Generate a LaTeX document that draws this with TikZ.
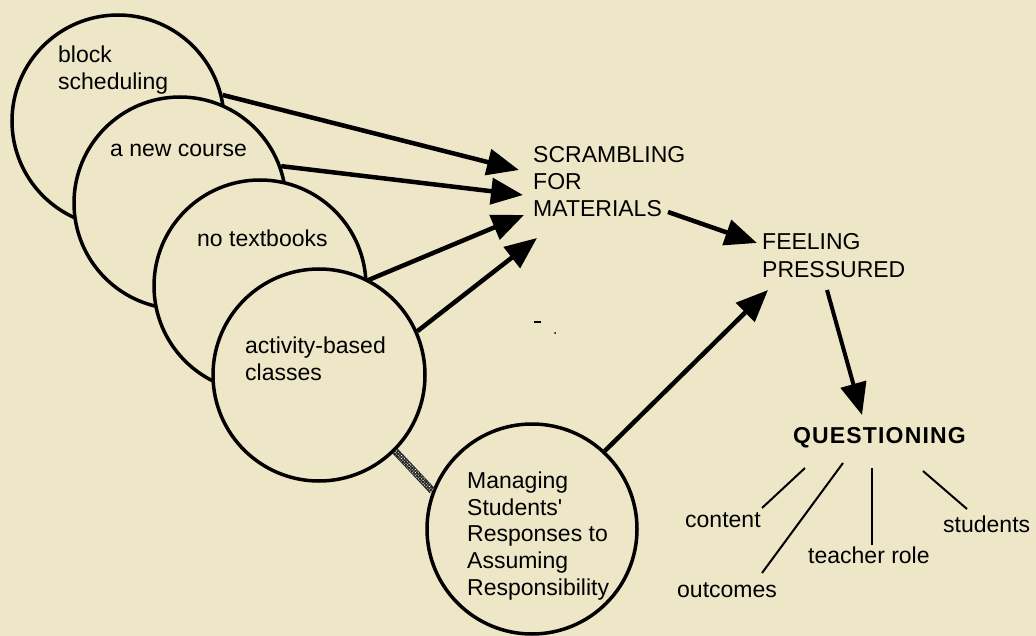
\documentclass[tikz,border=0pt]{standalone}
\usepackage{fontspec}
\setmainfont{Liberation Sans}
\usetikzlibrary{arrows.meta,patterns.meta,calc}
\definecolor{paper}{RGB}{237,231,200}
\begin{document}
\begin{tikzpicture}[x=1pt,y=-1pt,
  bubble/.style={circle,draw,fill=paper,line width=3.5pt,inner sep=0pt,minimum size=212pt},
  txt/.style={inner sep=0pt,font=\fontsize{23}{27}\selectfont,align=left},
  flow/.style={line width=4.5pt,-{Triangle[length=32pt,width=26pt]}},
  facet/.style={line width=2pt}]

% page
\fill[paper] (0,0) rectangle (1036,636);
\useasboundingbox (0,0) rectangle (1036,636);

% overlapping context circles (later ones lie on top)
\node[bubble] (c1) at (118,121) {};
\node[bubble] (c2) at (180,203) {};
\node[bubble] (c3) at (260,286) {};
\node[bubble] (c4) at (319,375) {};
\node[bubble,minimum size=210pt] (c5) at (532,529) {};

% circle labels
\node[txt,anchor=north west] (tblock) at (58,45.2) {block\\scheduling};
\node[txt,anchor=base west] (tcourse) at (110,157) {a new course};
\node[txt,anchor=base west] (tnobook) at (197,247) {no textbooks};
\node[txt,anchor=north west] (tact) at (245,336.2) {activity-based\\classes};
\node[txt,anchor=north west,font=\fontsize{23}{26.75}\selectfont] (tman) at (467,471.5)
  {Managing\\Students\textquotesingle\\Responses to\\Assuming\\Responsibility};

% free-standing concepts
\node[txt,anchor=north west] (scr) at (533,146.5) {SCRAMBLING\\FOR\\MATERIALS};
\node[txt,anchor=north west,font=\fontsize{23}{28}\selectfont] (feel) at (762,233.5) {FEELING\\PRESSURED};
\node[txt,anchor=base west,font=\fontsize{23}{27}\selectfont\bfseries\addfontfeature{LetterSpace=5}] (quest) at (793,443) {QUESTIONING};

% facets of questioning
\node[txt,anchor=base west] (content) at (685,527) {content};
\node[txt,anchor=base west] (outcomes) at (677,597) {outcomes};
\node[txt,anchor=base west] (role) at (808,563) {teacher role};
\node[txt,anchor=base west] (students) at (943,532) {students};

% arrow ends
\coordinate (s1) at (519,170);
\coordinate (s2) at (523,195);
\coordinate (s3) at (524,215);
\coordinate (s4) at (537,238);
\coordinate (sOut) at (668,212);
\coordinate (fIn) at (757,243);
\coordinate (fIn2) at (768,290);
\coordinate (fOut) at (827,290);
\coordinate (qIn) at (862,415);

\coordinate (qa) at (805,468);
\coordinate (qb) at (843,463);
\coordinate (qc) at (872,468);
\coordinate (qd) at (923,471);
\coordinate (ea) at (762,508);
\coordinate (eb) at (762,573);
\coordinate (ec) at (872,545);
\coordinate (ed) at (967,509);

% flows
\draw[flow] (c1.14) -- (s1);
\draw[flow] (c2.20) -- (s2);
\draw[flow] (c3.3) -- (s3);
\draw[flow] (c4.24) -- (s4);
\draw[flow] (sOut) -- (fIn);
\draw[flow] (c5.47) -- (fIn2);
\draw[flow,line width=4pt] (fOut) -- (qIn);

% facet lines
\draw[facet] (qa) -- (ea);
\draw[facet] (qb) -- (eb);
\draw[facet] (qc) -- (ec);
\draw[facet] (qd) -- (ed);

% checkered band joining the last two circles
\coordinate (ba) at (c4.-45);
\coordinate (bb) at (c5.159);
\fill[black!85] ($(ba)!3.5pt!90:(bb)$) -- ($(ba)!3.5pt!-90:(bb)$) -- ($(bb)!3.5pt!90:(ba)$) -- ($(bb)!3.5pt!-90:(ba)$) -- cycle;
\fill[pattern={Dots[distance=2.2pt,radius=0.65pt,angle=45]},pattern color=white]
  ($(ba)!2.6pt!90:(bb)$) -- ($(ba)!2.6pt!-90:(bb)$) -- ($(bb)!2.6pt!90:(ba)$) -- ($(bb)!2.6pt!-90:(ba)$) -- cycle;

% small stray marks
\draw[line width=2pt] (534,322) -- (541,322);
\fill (555,333) circle (1pt);
\end{tikzpicture}
\end{document}
